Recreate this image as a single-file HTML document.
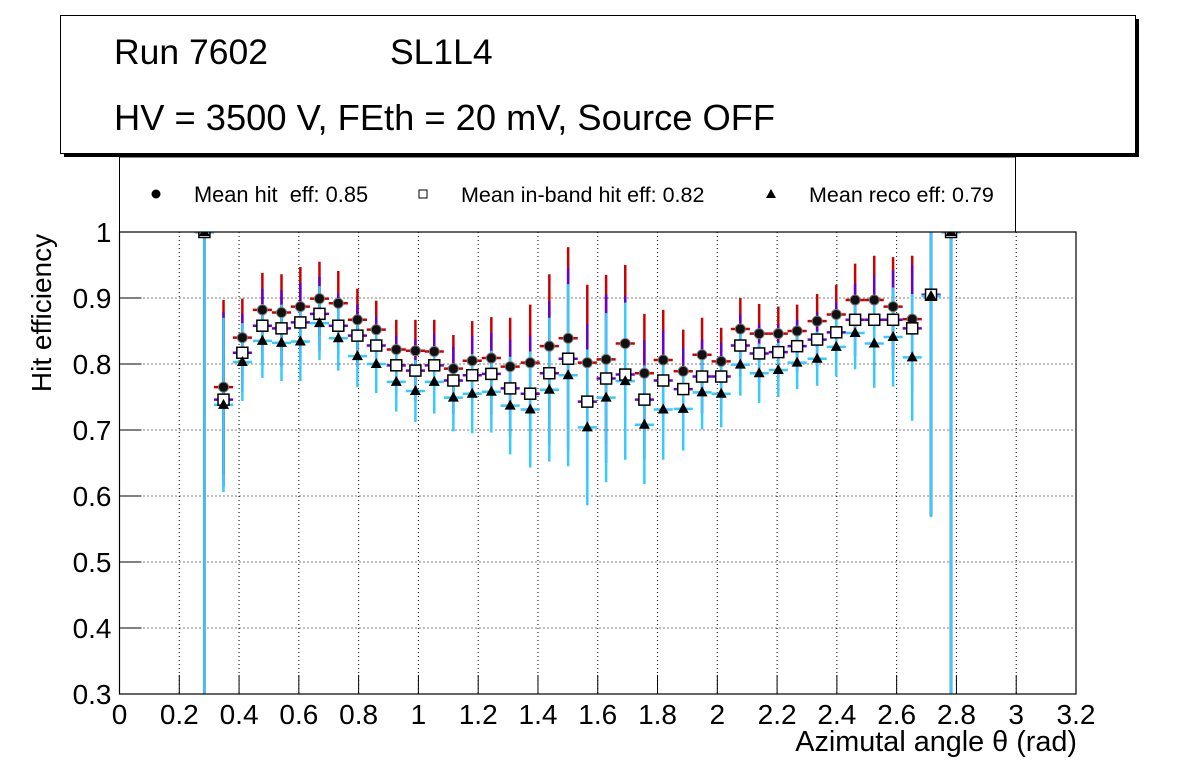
<!DOCTYPE html>
<html><head><meta charset="utf-8"><style>
html,body{margin:0;padding:0;background:#fff;}
svg{display:block;font-family:"Liberation Sans",sans-serif;}
</style></head><body>
<svg id="c" width="1196" height="772" viewBox="0 0 1196 772">
<rect x="0" y="0" width="1196" height="772" fill="#fff"/>
<g>
<rect x="64" y="19" width="1075" height="138" fill="#000"/>
<rect x="60.5" y="15.5" width="1075" height="138" fill="#fff" stroke="#000" stroke-width="1"/>
<text x="114" y="64" font-size="35.5">Run 7602</text>
<text x="390" y="64" font-size="35.5">SL1L4</text>
<text x="114" y="130" font-size="36.3">HV = 3500 V, FEth = 20 mV, Source OFF</text>
</g>
<g>
<rect x="119.5" y="157" width="896" height="75" fill="#fff" stroke="#000" stroke-width="1"/>
<circle cx="156" cy="194" r="4.5" fill="#000"/>
<text x="194" y="202" font-size="21.8" xml:space="preserve">Mean hit  eff: 0.85</text>
<rect x="419" y="190" width="8" height="8" fill="#fff" stroke="#000"/>
<text x="461" y="202" font-size="21.5">Mean in-band hit eff: 0.82</text>
<polygon points="771,189 776,198 766,198" fill="#000"/>
<text x="809" y="202" font-size="21.5">Mean reco eff: 0.79</text>
</g>
<g id="plot"></g>
<text x="1077" y="751" font-size="28.8" text-anchor="end">Azimutal angle θ (rad)</text>
<text transform="translate(51,313) rotate(-90)" font-size="28" text-anchor="middle">Hit efficiency</text>
</svg>
<script>
const angles=[0.284,0.348,0.411,0.478,0.542,0.605,0.669,0.732,0.796,0.859,0.926,0.990,1.053,1.117,1.180,1.244,1.307,1.374,1.438,1.501,1.565,1.628,1.692,1.756,1.819,1.886,1.949,2.013,2.077,2.140,2.204,2.267,2.334,2.398,2.461,2.525,2.588,2.652,2.715,2.782];
const hitEff=[1.0,0.765,0.840,0.882,0.878,0.887,0.899,0.892,0.867,0.852,0.822,0.820,0.819,0.793,0.805,0.809,0.796,0.802,0.827,0.839,0.802,0.807,0.831,0.786,0.806,0.789,0.814,0.804,0.853,0.846,0.846,0.850,0.865,0.875,0.897,0.897,0.887,0.868,0.905,1.0];
const bandEff=[1.0,0.746,0.817,0.858,0.854,0.863,0.876,0.858,0.843,0.828,0.798,0.790,0.798,0.775,0.783,0.785,0.763,0.755,0.786,0.808,0.743,0.778,0.784,0.746,0.775,0.762,0.781,0.781,0.828,0.816,0.818,0.827,0.837,0.848,0.867,0.867,0.867,0.854,0.905,1.0];
const recoEff=[1.0,0.738,0.803,0.835,0.832,0.834,0.862,0.839,0.812,0.800,0.773,0.759,0.773,0.749,0.755,0.758,0.737,0.731,0.761,0.783,0.704,0.749,0.774,0.708,0.731,0.732,0.757,0.755,0.799,0.786,0.791,0.802,0.808,0.826,0.847,0.831,0.841,0.810,0.903,1.0];
const errs=[0.70,0.132,0.059,0.056,0.058,0.060,0.056,0.049,0.047,0.044,0.045,0.047,0.048,0.051,0.060,0.062,0.074,0.088,0.109,0.138,0.118,0.128,0.119,0.090,0.076,0.063,0.056,0.051,0.047,0.045,0.041,0.040,0.041,0.045,0.055,0.067,0.075,0.096,0.335,0.70];
const xTicks=[0,0.2,0.4,0.6,0.8,1,1.2,1.4,1.6,1.8,2,2.2,2.4,2.6,2.8,3,3.2];
const yTicks=[0.3,0.4,0.5,0.6,0.7,0.8,0.9,1];
const X0=119.5,X1=1076,Y0=694,Y1=232,xmin=0,xmax=3.2,ymin=0.3,ymax=1.0,binW=0.064;
const sx=v=>X0+(v-xmin)/(xmax-xmin)*(X1-X0);
const sy=v=>Y0-(v-ymin)/(ymax-ymin)*(Y0-Y1);
const NS='http://www.w3.org/2000/svg';
const plot=document.getElementById('plot');
function mk(tag,attrs,parent){const e=document.createElementNS(NS,tag);for(const k in attrs)e.setAttribute(k,attrs[k]);(parent||plot).appendChild(e);return e;}
const defs=mk('defs',{});
const cp=mk('clipPath',{id:'pc'},defs);
mk('rect',{x:X0,y:Y1,width:X1-X0,height:Y0-Y1},cp);
const grid=mk('g',{});


xTicks.forEach(t=>{
 const l=mk('line',{x1:sx(t),x2:sx(t),y1:Y1,y2:Y0,stroke:'#000','stroke-width':1,'stroke-dasharray':'1,3'},grid);
 
 
 const tk=mk('line',{x1:sx(t),x2:sx(t),y1:Y0,y2:Y0-19,stroke:'#000','stroke-width':1});
 
 
 const tx=mk('text',{x:sx(t),y:Y0+30,'font-size':28,'text-anchor':'middle'});
 tx.textContent=String(t);
 
 
});
yTicks.forEach(t=>{
 const l=mk('line',{x1:X0,x2:X1,y1:sy(t),y2:sy(t),stroke:'#000','stroke-width':1,'stroke-dasharray':'1,3'},grid);
 
 
 const tk=mk('line',{x1:X0,x2:X0+22,y1:sy(t),y2:sy(t),stroke:'#000','stroke-width':1});
 
 
 const tx=mk('text',{x:X0-8,y:sy(t)+10,'font-size':28,'text-anchor':'end'});
 tx.textContent=String(t);
 
 
});
const marks=mk('g',{'clip-path':'url(#pc)'});


const series=[[hitEff,'#cc0000','hit'],[bandEff,'#6600cc','inband'],[recoEff,'#33ccff','reco']];
series.forEach(([vals,col,nm])=>{
 vals.forEach((v,i)=>{
  const x=sx(angles[i]);
  const e=mk('line',{x1:x,x2:x,y1:sy(v-errs[i]),y2:sy(v+errs[i]),stroke:col,'stroke-width':2.5},marks);
  
  
  const h=mk('line',{x1:sx(angles[i]-binW/2),x2:sx(angles[i]+binW/2),y1:sy(v),y2:sy(v),stroke:col,'stroke-width':2.5},marks);
  
  
 });
});
hitEff.forEach((v,i)=>{
 const c=mk('circle',{cx:sx(angles[i]),cy:sy(v),r:5,fill:'#111',stroke:'#777','stroke-width':1},marks);
 
 
});
bandEff.forEach((v,i)=>{
 const r=mk('rect',{x:sx(angles[i])-5.5,y:sy(v)-5.5,width:11,height:11,fill:'#fff',stroke:'#000','stroke-width':1.5},marks);
 
 
});
recoEff.forEach((v,i)=>{
 const x=sx(angles[i]),y=sy(v);
 const p=mk('polygon',{points:`${x},${y-6} ${x+5.5},${y+4} ${x-5.5},${y+4}`,fill:'#000'},marks);
 
 
});
const fr=mk('rect',{x:X0,y:Y1,width:X1-X0,height:Y0-Y1,fill:'none',stroke:'#000','stroke-width':1.2});


</script>
</body></html>
